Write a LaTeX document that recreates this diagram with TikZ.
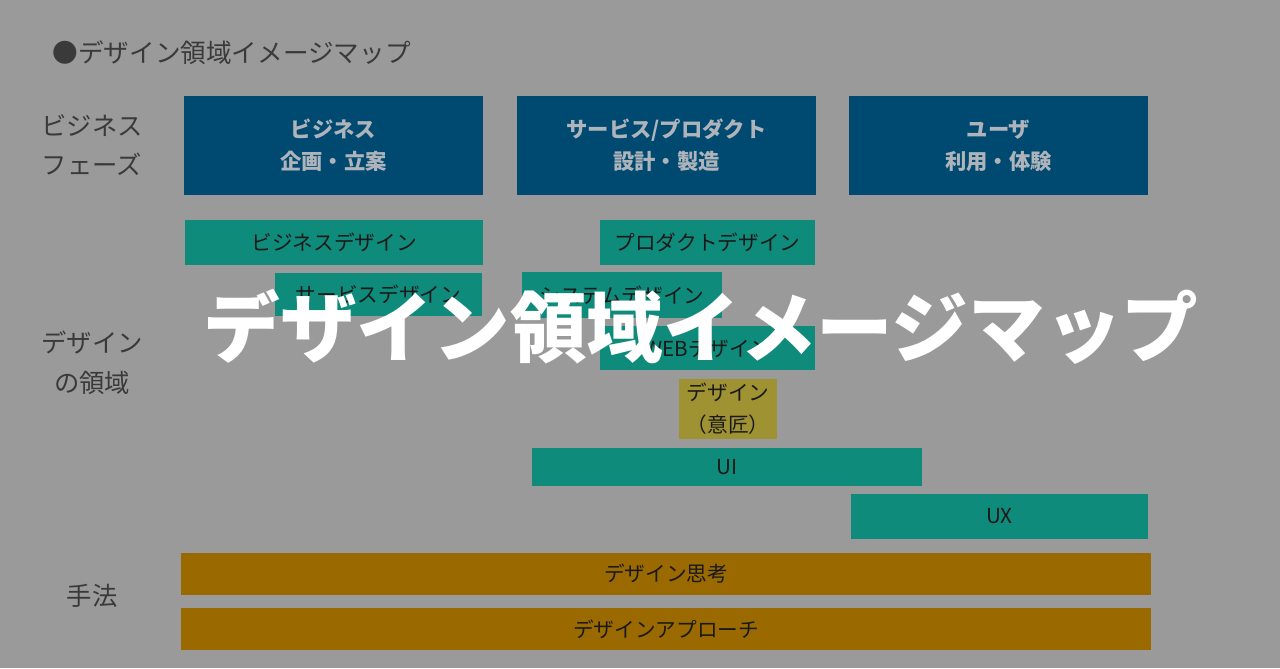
\documentclass[tikz,border=0pt]{standalone}
\usepackage{fontspec}
\setmainfont{Noto Sans CJK JP}
\usepackage{tikz}
\definecolor{bggray}{HTML}{9A9A9A}
\definecolor{phaseblue}{HTML}{004A72}
\definecolor{areateal}{HTML}{0F8B7B}
\definecolor{craftolive}{HTML}{9E9232}
\definecolor{methodbrown}{HTML}{9A6A00}
\definecolor{labelgray}{HTML}{3A3A3A}
\definecolor{phasetext}{HTML}{AEB4BA}
\tikzset{
    blk/.style={rectangle, inner sep=0pt, outer sep=0pt, align=center, text=black!90, font=\fontsize{15.5}{22}\selectfont},
    phase/.style={blk, fill=phaseblue, text=phasetext, font=\bfseries\fontsize{16}{24}\selectfont},
    area/.style={blk, fill=areateal},
    craft/.style={blk, fill=craftolive, font=\fontsize{15.5}{24}\selectfont},
    method/.style={blk, fill=methodbrown},
    rowlabel/.style={align=center, text=labelgray, font=\fontsize{19}{29}\selectfont}
}
% box from its corners in pixels: name, style, x1, y1, x2, y2, text
\newcommand{\blk}[7]{
    \node[#2, minimum width={(#5-#3)*0.75pt}, minimum height={(#6-#4)*0.75pt}](#1) at ({(#3+#5)/2}, {(#4+#6)/2}){#7}
}

\begin{document}
\begin{tikzpicture}[x=0.75pt, y=-0.75pt]
    \fill[bggray](0, 0) rectangle (1280, 668);
    \node[anchor=west, text=labelgray, font=\fontsize{19.2}{24}\selectfont](title) at (48, 53){●デザイン領域イメージマップ};
    \node[rowlabel](phases) at (92, 145){ビジネス\\フェーズ};
    \node[rowlabel, font=\fontsize{19}{30}\selectfont](areas) at (92, 363){デザイン\\の領域};
    \node[rowlabel](methods) at (92, 596){手法};
    \blk{biz}{phase}{184}{96}{483}{195}{ビジネス\\企画・立案};
    \blk{prod}{phase}{517}{96}{816}{195}{サービス/プロダクト\\設計・製造};
    \blk{user}{phase}{849}{96}{1148}{195}{ユーザ\\利用・体験};
    \blk{bizdes}{area}{185}{220}{483}{265}{ビジネスデザイン};
    \blk{proddes}{area}{600}{220}{815}{265}{プロダクトデザイン};
    \blk{servdes}{area}{275}{273}{482}{316}{サービスデザイン};
    \blk{sysdes}{area}{522}{272}{722}{318}{システムデザイン};
    \blk{webdes}{area}{600}{326}{815}{370}{WEBデザイン};
    \blk{craftdes}{craft}{679}{379}{777}{439}{デザイン\\（意匠）};
    \blk{ui}{area}{532}{448}{922}{486}{UI};
    \blk{ux}{area}{851}{494}{1148}{539}{UX};
    \blk{thinking}{method}{181}{553}{1151}{595}{デザイン思考};
    \blk{approach}{method}{181}{608}{1151}{650}{デザインアプローチ};
    \node[text=white, font=\bfseries\fontsize{57.5}{60}\selectfont](banner) at (701, 327){デザイン領域イメージマップ};
\end{tikzpicture}
\end{document}
